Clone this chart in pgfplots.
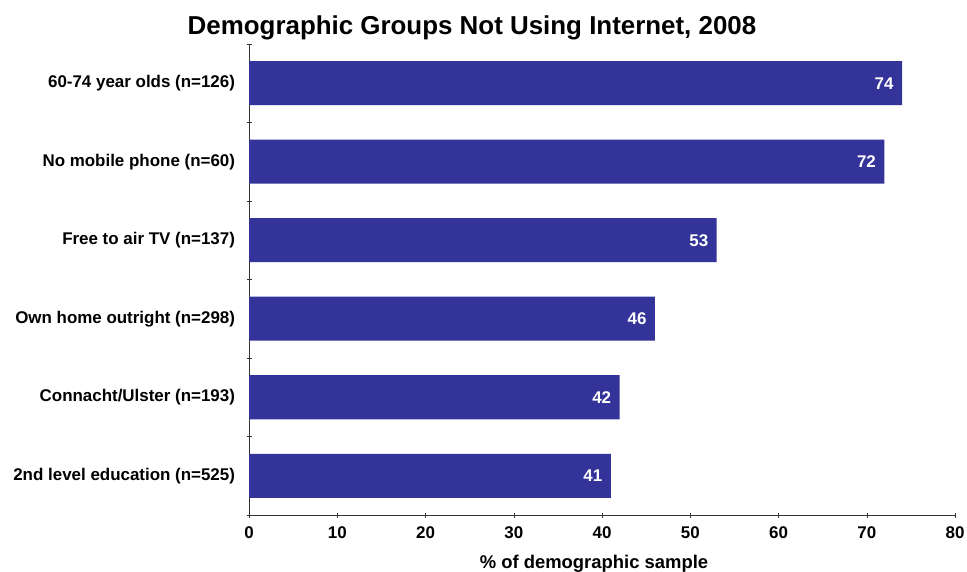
\documentclass[border=0pt]{standalone}
\usepackage{fontspec}
\setmainfont{Liberation Sans}
\usepackage{pgfplots}
\pgfplotsset{compat=1.18}
\definecolor{barblue}{RGB}{51,51,153}
\begin{document}
\begin{tikzpicture}[x=1bp,y=1bp]
\useasboundingbox (0,0) rectangle (967,572);
\node[font=\bfseries\fontsize{26}{30}\selectfont] at (472,544) {Demographic Groups Not Using Internet, 2008};
\begin{axis}[
  at={(249bp,57bp)}, anchor=south west,
  scale only axis, width=706bp, height=471bp,
  xbar, bar width=44bp,
  xmin=0, xmax=80, xtick={0,10,...,80},
  ymin=-0.5, ymax=5.5, y dir=reverse,
  ytick={-0.5,0.5,1.5,2.5,3.5,4.5,5.5},
  yticklabels={},
  extra y ticks={0,1,2,3,4,5},
  extra y tick labels={60-74 year olds (n=126),No mobile phone (n=60),Free to air TV (n=137),Own home outright (n=298),Connacht/Ulster (n=193),2nd level education (n=525)},
  extra y tick style={tick style={draw=none}},
  major tick length=5bp,
  tick style={black!80},
  tick align=outside,
  axis x line=bottom, axis y line=left,
  axis line style={-, black!80},
  /pgf/number format/assume math mode=true,
  tick label style={font=\bfseries\fontsize{17}{20}\selectfont},
  yticklabel style={xshift=-8bp},
  xticklabel style={yshift=-6bp},
  xlabel={\% of demographic sample},
  xlabel style={font=\bfseries\fontsize{18.5}{22}\selectfont, yshift=-9bp, xshift=-8bp},
  nodes near coords,
  nodes near coords style={font=\bfseries\fontsize{17}{20}\selectfont, text=white, anchor=east, xshift=-5bp},
  clip=false,
]
\addplot[fill=barblue, draw=none] coordinates {(74,0) (72,1) (53,2) (46,3) (42,4) (41,5)};
\end{axis}
\end{tikzpicture}
\end{document}
